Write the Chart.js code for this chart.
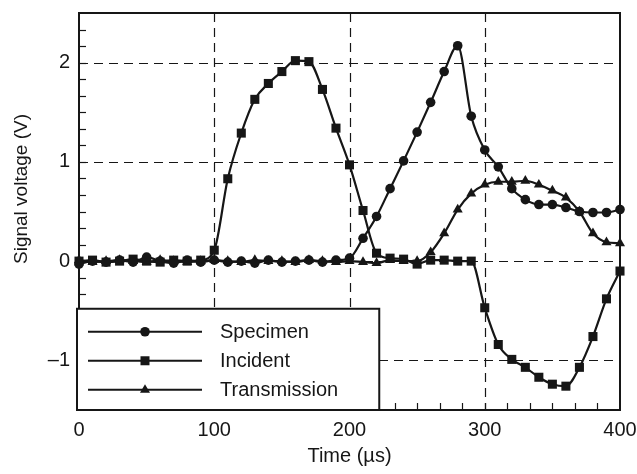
<!DOCTYPE html>
<html>
<head>
<meta charset="utf-8">
<script src="https://cdn.jsdelivr.net/npm/chart.js@4.4.0/dist/chart.umd.min.js"></script>
<style>
  html, body { margin: 0; padding: 0; background: #fff; }
</style>
</head>
<body>
<canvas id="pulse-chart" width="637" height="474"></canvas>
<script>
// sampled every 10 us
const timeUs = [0, 10, 20, 30, 40, 50, 60, 70, 80, 90, 100, 110, 120, 130, 140, 150, 160, 170, 180, 190,
  200, 210, 220, 230, 240, 250, 260, 270, 280, 290, 300, 310, 320, 330, 340, 350, 360, 370, 380, 390, 400];

const specimen = [-0.03, 0.00, -0.01, 0.01, -0.01, 0.04, 0.00, -0.02, 0.01, -0.01, 0.01, -0.01, 0.00, -0.02,
  0.01, -0.01, 0.00, 0.01, -0.01, 0.01, 0.03, 0.23, 0.45, 0.73, 1.01, 1.30, 1.60, 1.91, 2.17, 1.46, 1.12,
  0.95, 0.73, 0.62, 0.57, 0.57, 0.54, 0.50, 0.49, 0.49, 0.52];

const incident = [0.00, 0.01, -0.01, 0.00, 0.02, 0.00, -0.01, 0.01, 0.00, 0.01, 0.11, 0.83, 1.29, 1.63,
  1.79, 1.91, 2.02, 2.01, 1.73, 1.34, 0.97, 0.51, 0.08, 0.03, 0.02, -0.03, 0.01, 0.01, 0.00, 0.00, -0.47,
  -0.84, -0.99, -1.07, -1.17, -1.24, -1.26, -1.07, -0.76, -0.38, -0.10];

const transmission = [0.01, -0.01, 0.00, 0.01, 0.00, -0.01, 0.01, 0.00, -0.01, 0.00, 0.01, 0.00, -0.01,
  0.01, 0.00, 0.00, -0.01, 0.01, 0.00, -0.01, 0.00, -0.01, -0.02, 0.01, 0.00, 0.00, 0.09, 0.28, 0.52,
  0.68, 0.77, 0.80, 0.80, 0.81, 0.77, 0.71, 0.64, 0.50, 0.28, 0.19, 0.18];

const seriesNames = ["Specimen", "Incident", "Transmission"];
const xTicks = [0, 100, 200, 300, 400];
const yTicks = [-1, 0, 1, 2];

const INK = "#161616";
const FONT = "'Liberation Sans', Arial, Helvetica, sans-serif";

function toPoints(values) {
  return timeUs.map((t, i) => ({ x: t, y: values[i] }));
}

function minusLabel(v) {
  return v < 0 ? "\u2013" + Math.abs(v) : String(v);
}

// small marker painter, used for the legend samples
function drawMarker(ctx, style, x, y) {
  ctx.beginPath();
  if (style === "circle") {
    ctx.arc(x, y, 4.8, 0, Math.PI * 2);
  } else if (style === "rect") {
    ctx.rect(x - 4.5, y - 4.5, 9, 9);
  } else {
    ctx.moveTo(x, y - 5.5);
    ctx.lineTo(x + 5, y + 3);
    ctx.lineTo(x - 5, y + 3);
    ctx.closePath();
  }
  ctx.fill();
}

const pointStyles = ["circle", "rect", "triangle"];
const pointSizes = [4.8, 6.4, 5.8];

function makeSet(i, values) {
  return {
    label: seriesNames[i],
    data: toPoints(values),
    borderColor: INK,
    backgroundColor: INK,
    borderWidth: 2.2,
    pointStyle: pointStyles[i],
    pointRadius: pointSizes[i],
    pointBorderWidth: 0,
    cubicInterpolationMode: "monotone",
    clip: false,
  };
}

// gridlines, minor ticks, frame, legend box, axis titles
const decorations = {
  id: "decorations",
  beforeDatasetsDraw(chart) {
    const { ctx, chartArea: a, scales } = chart;
    const xs = scales.x, ys = scales.y;
    ctx.save();
    ctx.strokeStyle = INK;
    ctx.lineWidth = 1.2;
    ctx.setLineDash([9, 6]);
    [100, 200, 300].forEach((v) => {
      const px = Math.round(xs.getPixelForValue(v)) + 0.5;
      ctx.beginPath();
      ctx.moveTo(px, a.top);
      ctx.lineTo(px, a.bottom);
      ctx.stroke();
    });
    yTicks.forEach((v) => {
      const py = Math.round(ys.getPixelForValue(v)) + 0.5;
      ctx.beginPath();
      ctx.moveTo(a.left, py);
      ctx.lineTo(a.right, py);
      ctx.stroke();
    });
    ctx.setLineDash([]);
    // minor ticks, inward, every sixth of a major step
    for (let k = 1; k < 24; k++) {
      const px = Math.round(xs.getPixelForValue((k * 100) / 6)) + 0.5;
      ctx.beginPath();
      ctx.moveTo(px, a.bottom);
      ctx.lineTo(px, a.bottom - 7);
      ctx.stroke();
    }
    for (let k = -8; k < 15; k++) {
      const py = Math.round(ys.getPixelForValue(k / 6)) + 0.5;
      ctx.beginPath();
      ctx.moveTo(a.left, py);
      ctx.lineTo(a.left + 7, py);
      ctx.stroke();
    }
    ctx.restore();
  },
  afterDatasetsDraw(chart) {
    const { ctx, chartArea: a, scales } = chart;
    ctx.save();
    ctx.strokeStyle = INK;
    ctx.lineWidth = 2;
    ctx.strokeRect(a.left, a.top, a.right - a.left, a.bottom - a.top);

    // legend box sits in the lower left corner of the plot
    const boxRight = scales.x.getPixelForValue(222);
    const boxTop = scales.y.getPixelForValue(-0.48);
    ctx.fillStyle = "#fff";
    ctx.fillRect(a.left - 2, boxTop, boxRight - a.left + 2, a.bottom - boxTop);
    ctx.strokeRect(a.left - 2, boxTop, boxRight - a.left + 2, a.bottom - boxTop);

    ctx.fillStyle = INK;
    ctx.font = "20px " + FONT;
    ctx.textBaseline = "middle";
    ctx.textAlign = "left";
    seriesNames.forEach((name, i) => {
      const y = boxTop + 23 + i * 29;
      ctx.lineWidth = 2;
      ctx.beginPath();
      ctx.moveTo(a.left + 9, y);
      ctx.lineTo(a.left + 123, y);
      ctx.stroke();
      drawMarker(ctx, pointStyles[i], a.left + 66, y);
      ctx.fillText(name, a.left + 141, y + 1);
    });

    // axis titles
    ctx.font = "20px " + FONT;
    ctx.textAlign = "center";
    ctx.fillText("Time (\u00b5s)", (a.left + a.right) / 2, 456);
    ctx.font = "19px " + FONT;
    ctx.translate(22, 189);
    ctx.rotate(-Math.PI / 2);
    ctx.fillText("Signal voltage (V)", 0, 0);
    ctx.restore();
  },
};

const pulseChart = new Chart(document.getElementById("pulse-chart"), {
  type: "line",
  data: {
    datasets: [makeSet(0, specimen), makeSet(1, incident), makeSet(2, transmission)],
  },
  options: {
    responsive: false,
    animation: false,
    layout: { padding: { top: 7, right: 17, left: 0, bottom: 0 } },
    scales: {
      x: {
        type: "linear",
        min: 0,
        max: 400,
        afterFit: (s) => { s.height = 64; },
        afterBuildTicks: (s) => { s.ticks = xTicks.map((v) => ({ value: v })); },
        grid: { display: false },
        border: { display: false },
        ticks: {
          color: INK,
          padding: 0,
          maxRotation: 0,
          font: { family: FONT, size: 20 },
          callback: (v) => minusLabel(v),
        },
      },
      y: {
        min: -1.5,
        max: 2.5,
        afterFit: (s) => { s.width = 79; },
        afterBuildTicks: (s) => { s.ticks = yTicks.map((v) => ({ value: v })); },
        grid: { display: false },
        border: { display: false },
        ticks: {
          color: INK,
          padding: 1,
          font: { family: FONT, size: 20 },
          callback: (v) => minusLabel(v),
        },
      },
    },
    plugins: {
      legend: { display: false },
      tooltip: { enabled: false },
    },
  },
  plugins: [decorations],
});
</script>
</body>
</html>
